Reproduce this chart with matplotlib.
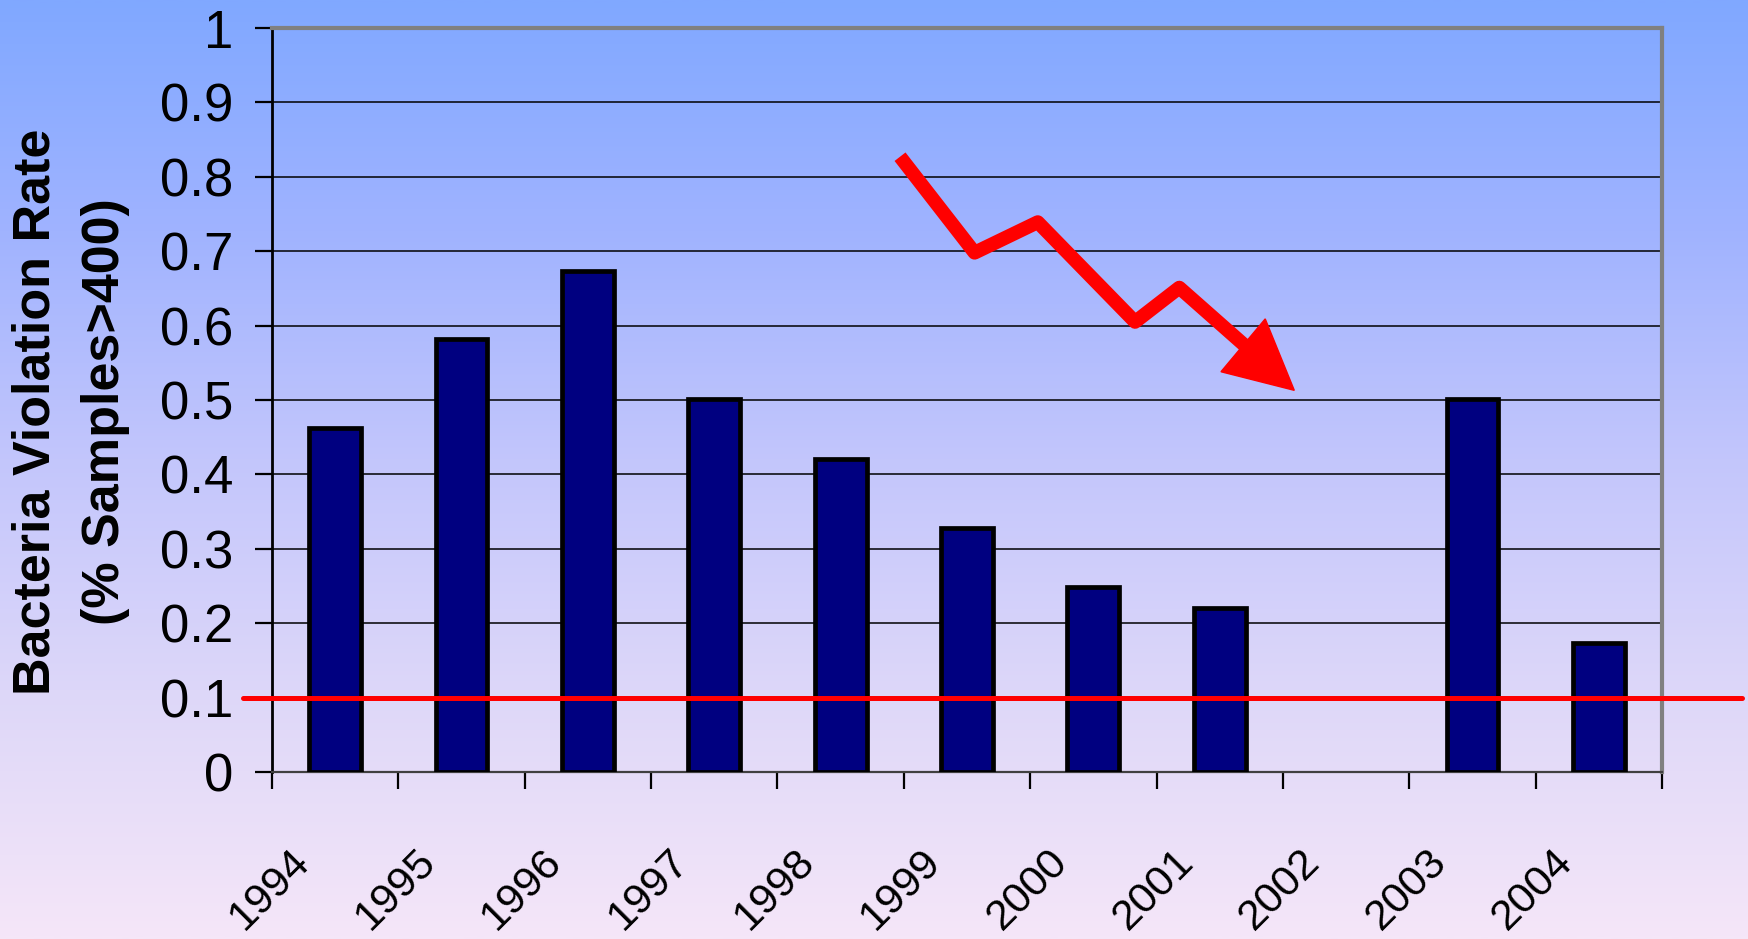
import numpy as np
import matplotlib
matplotlib.use("Agg")
import matplotlib.pyplot as plt
from matplotlib.colors import LinearSegmentedColormap
from matplotlib.patches import Polygon
from matplotlib.transforms import ScaledTranslation

plt.rcParams['font.family'] = ['Liberation Sans', 'DejaVu Sans']

# ---- data ----
years = ['1994', '1995', '1996', '1997', '1998', '1999', '2000', '2001', '2002', '2003', '2004']
violation_rate = [0.463, 0.582, 0.673, 0.501, 0.421, 0.328, 0.248, 0.221, np.nan, 0.501, 0.173]
standard_level = 0.1
y_ticks = [0, 0.1, 0.2, 0.3, 0.4, 0.5, 0.6, 0.7, 0.8, 0.9, 1]
y_tick_labels = ['0', '0.1', '0.2', '0.3', '0.4', '0.5', '0.6', '0.7', '0.8', '0.9', '1']

# decorative trend arrow (data coordinates)
arrow_x = [4.47, 5.06, 5.56, 6.33, 6.68, 7.22]
arrow_y = [0.827, 0.698, 0.739, 0.605, 0.651, 0.570]
head_x = [7.36, 7.59, 7.01]
head_y = [0.609, 0.513, 0.538]

W, H, DPI = 17.48, 9.39, 100
fig = plt.figure(figsize=(W, H), dpi=DPI)

# gradient background
bg = fig.add_axes([0, 0, 1, 1], zorder=-10)
stops = [(0.0, '#80A8FF'), (0.245, '#A0B3FF'), (0.49, '#C3C6FC'), (0.735, '#DDD7F9'), (1.0, '#F5E6F8')]
cmap = LinearSegmentedColormap.from_list('bg', stops)
grad = np.linspace(0, 1, 512).reshape(-1, 1)
bg.imshow(grad, aspect='auto', cmap=cmap, extent=[0, 1, 0, 1], origin='upper')
bg.set_axis_off()

left, right = 272 / 1748, 1662 / 1748
top, bottom = 1 - 28 / 939, 1 - 772 / 939
ax = fig.add_axes([left, bottom, right - left, top - bottom])
ax.set_facecolor('none')

x = np.arange(len(years))
ax.bar(x, violation_rate, width=0.41, color='#000080', edgecolor='black', linewidth=3.4, zorder=3)

ax.set_xlim(-0.5, len(years) - 0.5)
ax.set_ylim(0, 1)

# grid
for yv in y_ticks[1:-1]:
    ax.axhline(yv, color='black', lw=1.1, zorder=1)

# spines
ax.spines['left'].set_color('black')
ax.spines['left'].set_linewidth(2.0)
ax.spines['bottom'].set_color('#404040')
ax.spines['bottom'].set_linewidth(1.6)
for s in ['top', 'right']:
    ax.spines[s].set_color('#808080')
    ax.spines[s].set_linewidth(3.0)

# y ticks
ax.set_yticks(y_ticks)
ax.set_yticklabels(y_tick_labels)
ax.tick_params(axis='y', direction='out', length=12, width=1.6, color='black',
               pad=16, labelsize=38)

# x ticks: labels at centers, tick marks at boundaries
ax.set_xticks(x)
ax.set_xticklabels(years, rotation=45, ha='right', fontsize=31)
ax.set_xticks(np.arange(-0.5, len(years)), minor=True)
ax.tick_params(axis='x', which='major', length=0, pad=50)
ax.tick_params(axis='x', which='minor', direction='out', length=12, width=1.6, color='black')
for lab in ax.get_xticklabels():
    lab.set_transform(lab.get_transform() + ScaledTranslation(-18 / DPI, 0, fig.dpi_scale_trans))

# standard line
ax.plot([-0.73, 11.13], [standard_level, standard_level], color='#FF0000', lw=3.6,
        solid_capstyle='round', clip_on=False, zorder=5)

# trend arrow
ax.plot(arrow_x, arrow_y, color='#FF0000', lw=10, solid_joinstyle='round',
        solid_capstyle='butt', zorder=6, clip_on=False)
ax.add_patch(Polygon(list(zip(head_x, head_y)), closed=True, color='#FF0000', zorder=6, clip_on=False))

# y label
fig.text(71 / 1748, 1 - 412 / 939, 'Bacteria Violation Rate\n(% Samples>400)', rotation=90,
         ha='center', va='center', multialignment='center', fontsize=37.5, fontweight='bold',
         linespacing=1.55)

fig.savefig('out.png', dpi=DPI)
